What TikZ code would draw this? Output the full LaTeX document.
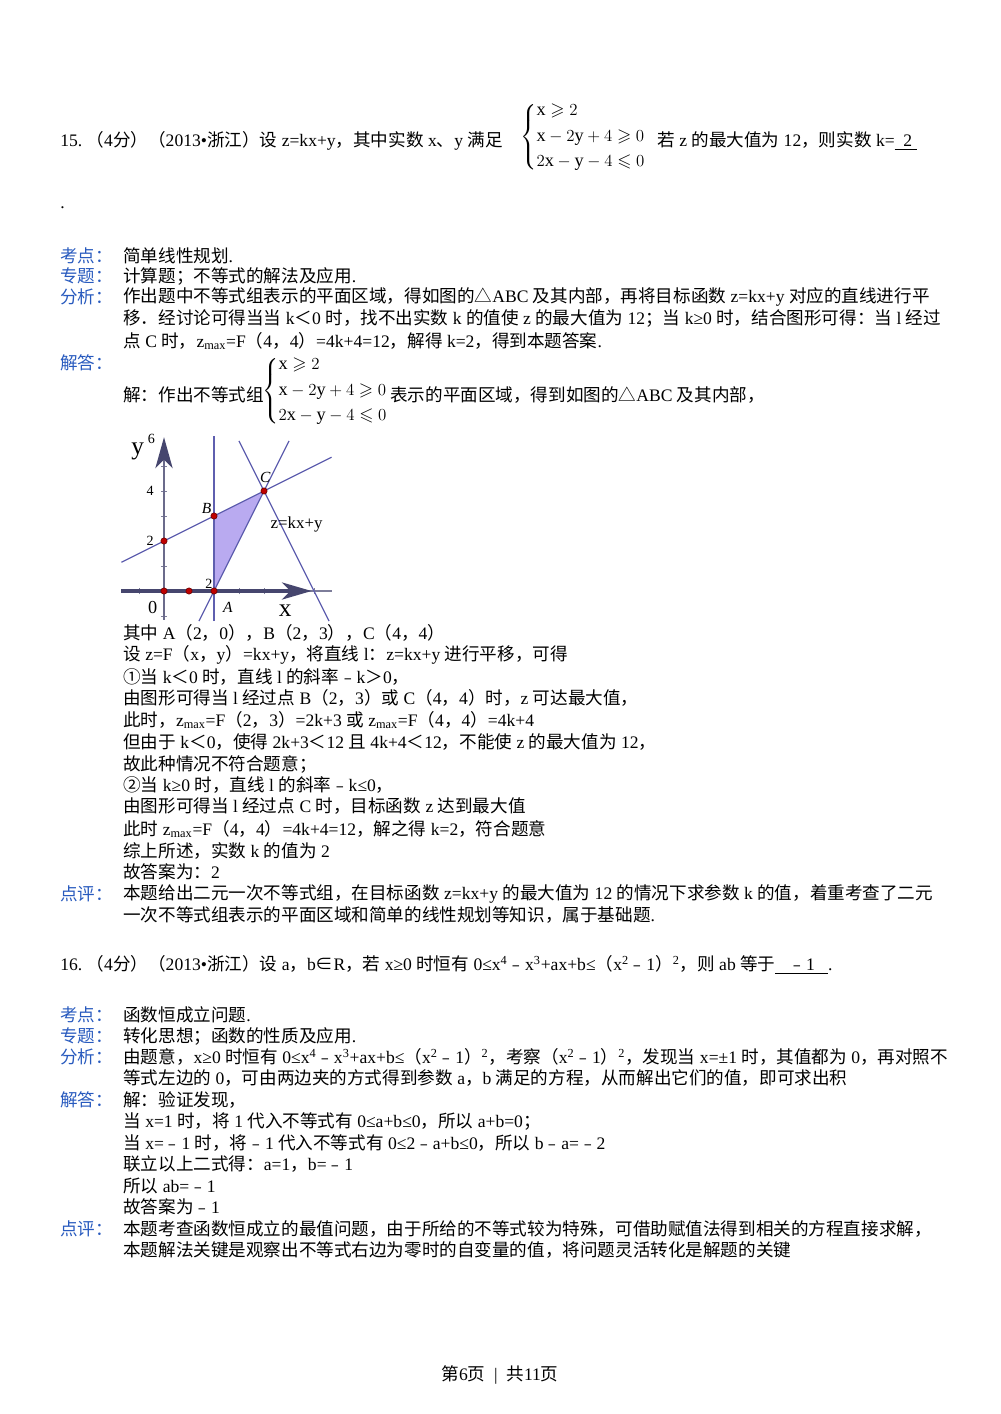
\documentclass[tikz,border=0pt]{standalone}
\usepackage{amssymb}
\usepackage{fontspec}
\setmainfont{Liberation Serif}
\newfontfamily\cjk{Noto Sans CJK SC}
\newXeTeXintercharclass\cjkclass
\count255="4E00 \loop \XeTeXcharclass\count255=\cjkclass \advance\count255 1 \ifnum\count255<"A000 \repeat
\count255="3000 \loop \XeTeXcharclass\count255=\cjkclass \advance\count255 1 \ifnum\count255<"3040 \repeat
\count255="FF00 \loop \XeTeXcharclass\count255=\cjkclass \advance\count255 1 \ifnum\count255<"FF60 \repeat
\count255="FE50 \loop \XeTeXcharclass\count255=\cjkclass \advance\count255 1 \ifnum\count255<"FE70 \repeat
\XeTeXcharclass"2460=\cjkclass \XeTeXcharclass"2461=\cjkclass \XeTeXcharclass"2208=\cjkclass
\XeTeXcharclass"25B3=\cjkclass
\XeTeXinterchartoks 0 \cjkclass = {\cjk}
\XeTeXinterchartoks 4095 \cjkclass = {\cjk}
\XeTeXinterchartoks \cjkclass 0 = {\rmfamily}
\XeTeXinterchartoks \cjkclass 4095 = {\rmfamily}
\XeTeXinterchartoks 4095 0 = {\rmfamily}
\XeTeXinterchartokenstate=1
\definecolor{lab}{RGB}{40,90,190}
\definecolor{gl}{RGB}{95,95,175}
\definecolor{fillc}{RGB}{185,170,240}
\definecolor{ax}{RGB}{70,70,110}
\tikzset{tx/.style={anchor=west,inner sep=0pt,font=\fontsize{12.5}{14}\selectfont},
lb/.style={tx,text=lab},
dot/.style={circle,fill=red!75!black,draw=red!40!black,inner sep=0pt,minimum size=4.5pt},
gline/.style={gl,line width=0.9pt},
sm/.style={inner sep=0pt,font=\fontsize{10}{12}\selectfont}}
\newcommand\sysA{$\left\{\begin{array}{@{}l@{}}\mathrm{x}\geqslant 2\\[3pt] \mathrm{x}-2\mathrm{y}+4\geqslant 0\\[3pt] 2\mathrm{x}-\mathrm{y}-4\leqslant 0\end{array}\right.$}
\begin{document}
\begin{tikzpicture}[x=0.025cm,y=-0.025cm]
\useasboundingbox (0,0) rectangle (1000,1414);
\node[tx] (l1) at (60,141) {15.\ （4分）（2013•浙江）设 z=kx+y，其中实数 x、y 满足};
\node[tx,font=\fontsize{13}{15}\selectfont] (s1) at (520,137) {\sysA};
\node[tx] (l1b) at (657,141) {若 z 的最大值为 12，则实数 k=\underline{\ \ 2\ }};
\node[tx] (dt) at (60,208) {.};
\node[lb] (k1) at (60,256) {考点：};\node[tx] (k1t) at (123,256) {简单线性规划.};
\node[lb] (k2) at (60,276) {专题：};\node[tx] (k2t) at (123,276) {计算题；不等式的解法及应用.};
\node[lb] (k3) at (60,297) {分析：};\node[tx] (k3t) at (123,297) {作出题中不等式组表示的平面区域，得如图的△ABC 及其内部，再将目标函数 z=kx+y 对应的直线进行平};
\node[tx] (k3b) at (123,318) {移．经讨论可得当当 k＜0 时，找不出实数 k 的值使 z 的最大值为 12；当 k≥0 时，结合图形可得：当 l 经过};
\node[tx] (k3c) at (123,341) {点 C 时，z\textsubscript{max}=F（4，4）=4k+4=12，解得 k=2，得到本题答案.};
\node[lb] (k4) at (60,363) {解答：};
\node[tx] (j1) at (123,395) {解：作出不等式组};
\node[tx,font=\fontsize{13}{15}\selectfont] (s2) at (262,391) {\sysA};
\node[tx] (j1b) at (390,395) {表示的平面区域，得到如图的△ABC 及其内部，};
% graph
\begin{scope}[shift={(164,591)},x=0.625cm,y=0.625cm]
\fill[fillc] (2,0) -- (2,3) -- (4,4) -- cycle;
\foreach \i in {-1,1,2,3,4,5,6} \draw[ax!70,line width=0.6pt] (\i,-0.12) -- (\i,0.12);
\foreach \j in {-1,1,2,3,4,5} \draw[ax!70,line width=0.6pt] (-0.12,\j) -- (0.12,\j);
\draw[ax!80,line width=0.8pt] (0,-1.15) -- (0,5.5);
\draw[ax!70,line width=0.8pt] (5.3,0) -- (6.7,0);
\draw[ax,line width=2.2pt] (-1.7,0) -- (5.3,0);
\fill[ax] (5.9,0) -- (4.7,0.35) -- (5.05,0) -- (4.7,-0.35) -- cycle;
\fill[ax] (0,6.15) -- (0.35,4.9) -- (0,5.25) -- (-0.35,4.9) -- cycle;
\draw[gline] (2,-1.2) -- (2,6.2);
\draw[gline] (-1.7,1.15) -- (6.7,5.35);
\draw[gline] (1.4,-1.2) -- (5,6);
\draw[gline] (3,6) -- (6.6,-1.2);
\node[dot] (pO) at (0,0) {};\node[dot] (p1) at (1,0) {};\node[dot] (pA) at (2,0) {};
\node[dot] (pB) at (2,3) {};\node[dot] (p2) at (0,2) {};\node[dot] (pC) at (4,4) {};
\node[sm] (n6) at (-0.5,6.1) {6};
\node[sm] (n4) at (-0.55,4) {4};
\node[sm] (n2) at (-0.55,2) {2};
\node[sm] (n0) at (-0.45,-0.65) {\fontsize{13}{13}\selectfont 0};
\node[sm] (n2b) at (1.8,0.3) {2};
\node[sm,font=\fontsize{11}{12}\selectfont\itshape] (nA) at (2.55,-0.65) {A};
\node[sm,font=\fontsize{11}{12}\selectfont\itshape] (nB) at (1.7,3.3) {B};
\node[sm,font=\fontsize{11}{12}\selectfont\itshape] (nC) at (4.05,4.55) {C};
\node[sm,font=\fontsize{18}{18}\selectfont] (nx) at (4.85,-0.8) {x};
\node[sm,font=\fontsize{18}{18}\selectfont] (ny) at (-1.05,5.6) {y};
\node[sm,font=\fontsize{12}{14}\selectfont] (nz) at (5.3,2.65) {z=kx+y};
\end{scope}
\node[tx] (a1) at (123,633) {其中 A（2，0），B（2，3），C（4，4）};
\node[tx] (a2) at (123,655) {设 z=F（x，y）=kx+y，将直线 l：z=kx+y 进行平移，可得};
\node[tx] (a3) at (123,677) {①当 k＜0 时，直线 l 的斜率﹣k＞0，};
\node[tx] (a4) at (123,698) {由图形可得当 l 经过点 B（2，3）或 C（4，4）时，z 可达最大值，};
\node[tx] (a5) at (123,720) {此时，z\textsubscript{max}=F（2，3）=2k+3 或 z\textsubscript{max}=F（4，4）=4k+4};
\node[tx] (a6) at (123,742) {但由于 k＜0，使得 2k+3＜12 且 4k+4＜12，不能使 z 的最大值为 12，};
\node[tx] (a7) at (123,764) {故此种情况不符合题意；};
\node[tx] (a8) at (123,785) {②当 k≥0 时，直线 l 的斜率﹣k≤0，};
\node[tx] (a9) at (123,806) {由图形可得当 l 经过点 C 时，目标函数 z 达到最大值};
\node[tx] (a10) at (123,829) {此时 z\textsubscript{max}=F（4，4）=4k+4=12，解之得 k=2，符合题意};
\node[tx] (a11) at (123,851) {综上所述，实数 k 的值为 2};
\node[tx] (a12) at (123,872) {故答案为：2};
\node[lb] (k5) at (60,894) {点评：};\node[tx] (p1t) at (123,894) {本题给出二元一次不等式组，在目标函数 z=kx+y 的最大值为 12 的情况下求参数 k 的值，着重考查了二元};
\node[tx] (p2t) at (123,915) {一次不等式组表示的平面区域和简单的线性规划等知识，属于基础题.};
\node[tx] (q16) at (60,965) {16.\ （4分）（2013•浙江）设 a，b∈R，若 x≥0 时恒有 0≤x\textsuperscript{4}﹣x\textsuperscript{3}+ax+b≤（x\textsuperscript{2}﹣1）\textsuperscript{2}，则 ab 等于\underline{\ \ \ ﹣1\ \ \ }.};
\node[lb] (m1) at (60,1015) {考点：};\node[tx] (m1t) at (123,1015) {函数恒成立问题.};
\node[lb] (m2) at (60,1036) {专题：};\node[tx] (m2t) at (123,1036) {转化思想；函数的性质及应用.};
\node[lb] (m3) at (60,1057) {分析：};\node[tx] (m3t) at (123,1057) {由题意，x≥0 时恒有 0≤x\textsuperscript{4}﹣x\textsuperscript{3}+ax+b≤（x\textsuperscript{2}﹣1）\textsuperscript{2}，考察（x\textsuperscript{2}﹣1）\textsuperscript{2}，发现当 x=±1 时，其值都为 0，再对照不};
\node[tx] (m3b) at (123,1078) {等式左边的 0，可由两边夹的方式得到参数 a，b 满足的方程，从而解出它们的值，即可求出积};
\node[lb] (m4) at (60,1100) {解答：};\node[tx] (b1) at (123,1100) {解：验证发现，};
\node[tx] (b2) at (123,1121) {当 x=1 时，将 1 代入不等式有 0≤a+b≤0，所以 a+b=0；};
\node[tx] (b3) at (123,1143) {当 x=﹣1 时，将﹣1 代入不等式有 0≤2﹣a+b≤0，所以\ b﹣a=﹣2};
\node[tx] (b4) at (123,1164) {联立以上二式得：a=1，b=﹣1};
\node[tx] (b5) at (123,1186) {所以 ab=﹣1};
\node[tx] (b6) at (123,1207) {故答案为﹣1};
\node[lb] (m5) at (60,1229) {点评：};\node[tx] (c1) at (123,1229) {本题考查函数恒成立的最值问题，由于所给的不等式较为特殊，可借助赋值法得到相关的方程直接求解，};
\node[tx] (c2) at (123,1250) {本题解法关键是观察出不等式右边为零时的自变量的值，将问题灵活转化是解题的关键};
\node[tx,anchor=center] (pg) at (500,1375) {第6页\ \ |\ \ 共11页};
\end{tikzpicture}
\end{document}
